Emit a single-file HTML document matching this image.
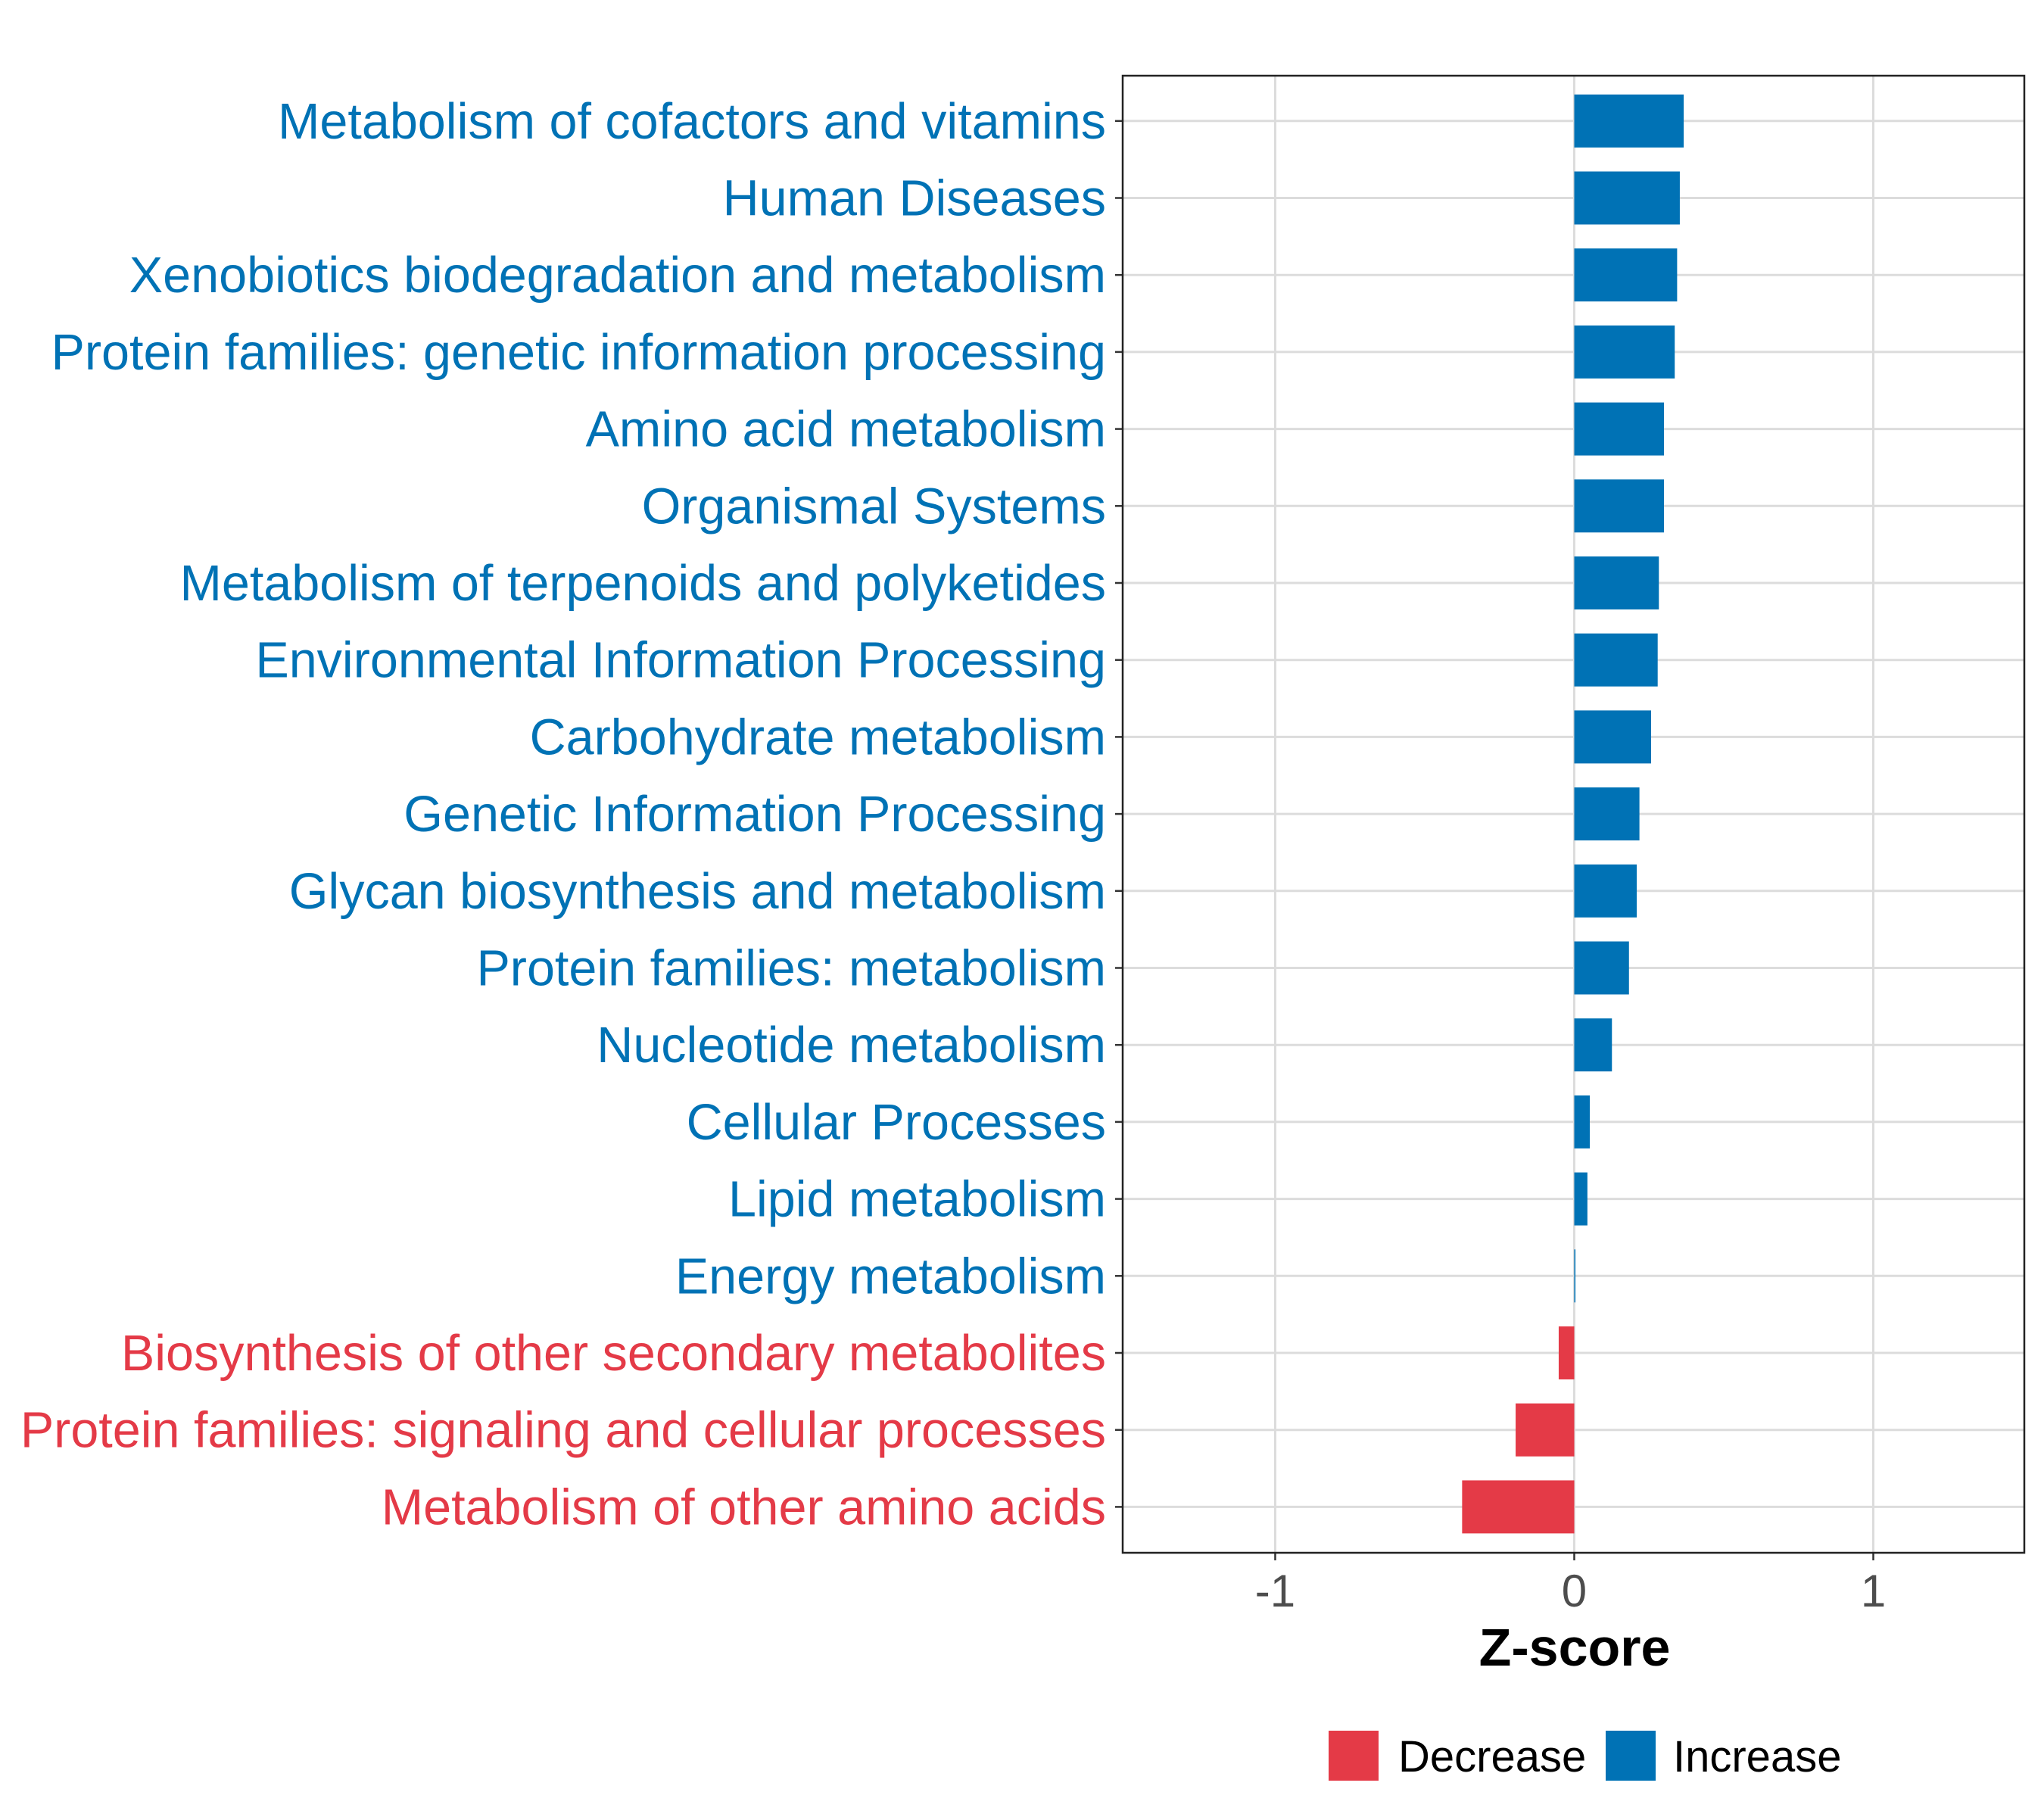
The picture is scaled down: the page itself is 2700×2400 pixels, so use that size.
<!DOCTYPE html>
<html><head><meta charset="utf-8"><style>
html,body{margin:0;padding:0;background:#fff;}
svg{display:block;font-family:"Liberation Sans",sans-serif;}
</style></head><body>
<svg id="chart" width="2700" height="2400" viewBox="0 0 2700 2400" xmlns="http://www.w3.org/2000/svg">
<g id="grid"></g>
<g id="bars"></g>
<g id="ylabels"></g>
<g id="xaxis"></g>
<rect x="1483" y="100" width="1191" height="1951" fill="none" stroke="#222" stroke-width="2.5"/>
<text x="2080" y="2200" text-anchor="middle" font-size="70" font-weight="bold" fill="#000">Z-score</text>
<g>
<rect x="1755" y="2286" width="66" height="66" fill="#e43a47"/>
<text x="1847" y="2340" font-size="58" fill="#000">Decrease</text>
<rect x="2121" y="2286" width="66" height="66" fill="#0072b5"/>
<text x="2210" y="2340" font-size="58" fill="#000">Increase</text>
</g>
</svg>
<script>
const categories = ["Metabolism of cofactors and vitamins","Human Diseases","Xenobiotics biodegradation and metabolism","Protein families: genetic information processing","Amino acid metabolism","Organismal Systems","Metabolism of terpenoids and polyketides","Environmental Information Processing","Carbohydrate metabolism","Genetic Information Processing","Glycan biosynthesis and metabolism","Protein families: metabolism","Nucleotide metabolism","Cellular Processes","Lipid metabolism","Energy metabolism","Biosynthesis of other secondary metabolites","Protein families: signaling and cellular processes","Metabolism of other amino acids"];
const zscores = [0.366,0.353,0.344,0.336,0.30,0.30,0.283,0.279,0.257,0.218,0.209,0.183,0.126,0.052,0.044,0.004,-0.052,-0.196,-0.375];
const xTicks = [-1,0,1];
const xTickLabels = ["-1","0","1"];

const NS="http://www.w3.org/2000/svg";
const L=1483,R=2674,T=100,B=2051;
const xMin=-1.51,xMax=1.505;
const x=v=>L+(v-xMin)/(xMax-xMin)*(R-L);
const step=101.7, y0=159.8;
const y=i=>y0+i*step;
const bh=70;
const blue="#0072b5", red="#e43a47";
function mk(tag,attrs,parent){const e=document.createElementNS(NS,tag);for(const k in attrs)e.setAttribute(k,attrs[k]);parent.appendChild(e);return e;}
const grid=document.getElementById('grid'),bars=document.getElementById('bars'),yl=document.getElementById('ylabels'),xa=document.getElementById('xaxis');
xTicks.forEach((t,i)=>{
  const g=mk('line',{x1:x(t),x2:x(t),y1:T,y2:B,stroke:"#dcdcdc","stroke-width":3},grid);
  
  
  const tk=mk('line',{x1:x(t),x2:x(t),y1:B,y2:B+10,stroke:"#333","stroke-width":2.5},xa);
  
  
  const tx=mk('text',{x:x(t),y:2122,"text-anchor":"middle","font-size":60,fill:"#4d4d4d"},xa);
  tx.textContent=xTickLabels[i];
  
  
});
categories.forEach((c,i)=>{
  const yy=y(i);
  const g=mk('line',{x1:L,x2:R,y1:yy,y2:yy,stroke:"#dcdcdc","stroke-width":3},grid);
  
  
  const v=zscores[i];
  const col=v<0?red:blue;
  const x1=Math.min(x(0),x(v)),w=Math.max(Math.abs(x(v)-x(0)),1.5);
  const r=mk('rect',{x:x1,y:yy-bh/2,width:w,height:bh,fill:col},bars);
  
  
  const tk=mk('line',{x1:L-10,x2:L,y1:yy,y2:yy,stroke:"#333","stroke-width":2.5},yl);
  
  
  const t=mk('text',{x:L-22,y:yy+23,"text-anchor":"end","font-size":66.5,fill:col},yl);
  t.textContent=c;
  
  
});
</script>
</body></html>
